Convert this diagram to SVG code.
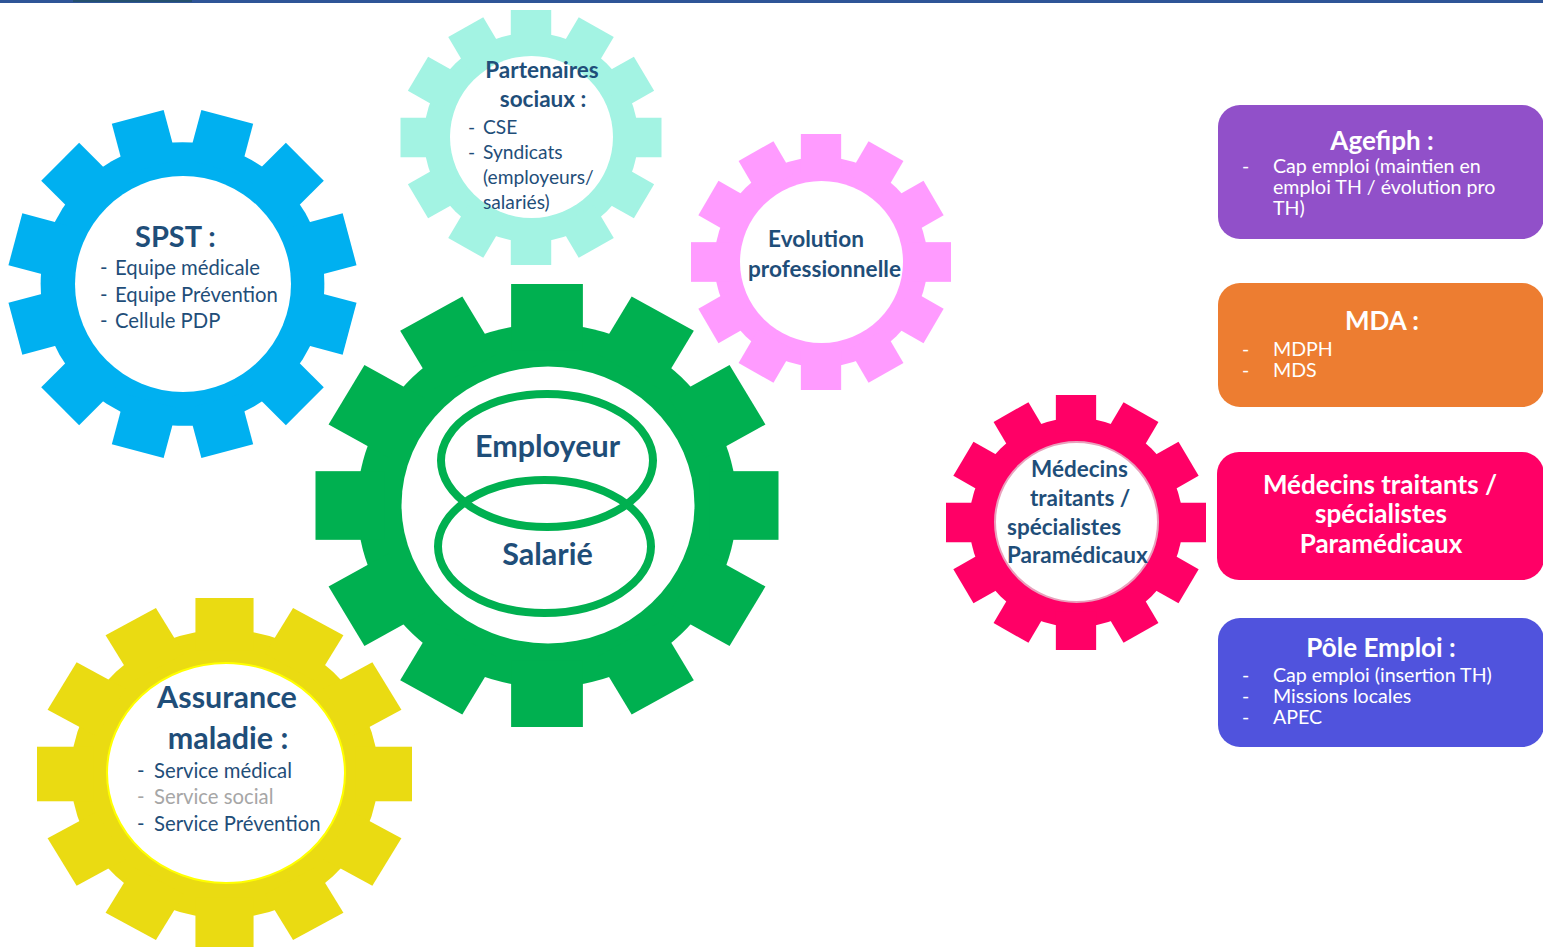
<svg xmlns="http://www.w3.org/2000/svg" xmlns:xlink="http://www.w3.org/1999/xlink" width="1543" height="947" viewBox="0 0 1543 947">
<style>
text{font-family:Lato,"Liberation Sans",sans-serif;}
.t{fill:#1F4E79;}
.b{font-weight:bold;}
.w{fill:#ffffff;}
.hole{fill:#ffffff;}
</style>
<defs>
<g id="gear">
<circle r="82"/>
<rect x="-15.5" y="-100" width="31" height="30"/>
<rect x="-15.5" y="-100" width="31" height="30" transform="rotate(30)"/>
<rect x="-15.5" y="-100" width="31" height="30" transform="rotate(60)"/>
<rect x="-15.5" y="-100" width="31" height="30" transform="rotate(90)"/>
<rect x="-15.5" y="-100" width="31" height="30" transform="rotate(120)"/>
<rect x="-15.5" y="-100" width="31" height="30" transform="rotate(150)"/>
<rect x="-15.5" y="-100" width="31" height="30" transform="rotate(180)"/>
<rect x="-15.5" y="-100" width="31" height="30" transform="rotate(210)"/>
<rect x="-15.5" y="-100" width="31" height="30" transform="rotate(240)"/>
<rect x="-15.5" y="-100" width="31" height="30" transform="rotate(270)"/>
<rect x="-15.5" y="-100" width="31" height="30" transform="rotate(300)"/>
<rect x="-15.5" y="-100" width="31" height="30" transform="rotate(330)"/>
</g>
</defs>
<rect width="1543" height="947" fill="#ffffff"/>
<rect x="0" y="0" width="1543" height="3" fill="#2F5597"/>
<rect x="73" y="0" width="119" height="2" fill="#24506E"/>

<g id="spst">
<use xlink:href="#gear" fill="#00B0F0" transform="translate(182.5,284) scale(1.73) rotate(15)"/>
<circle class="hole" cx="183" cy="284" r="108"/>
<text class="t b" x="135" y="247" font-size="29">SPST :</text>
<text class="t" font-size="20.3"><tspan x="100" y="275">-</tspan><tspan x="115" y="275">Equipe médicale</tspan><tspan x="100" y="302">-</tspan><tspan x="115" y="302">Equipe Prévention</tspan><tspan x="100" y="328">-</tspan><tspan x="115" y="328">Cellule PDP</tspan></text>
</g>

<g id="partenaires">
<use xlink:href="#gear" fill="#A3F3E3" transform="translate(531,137.5) scale(1.305,1.275)"/>
<ellipse class="hole" cx="531.5" cy="137" rx="81.5" ry="81"/>
<text class="t b" font-size="22.5" text-anchor="middle"><tspan x="542" y="78">Partenaires</tspan><tspan x="543" y="107">sociaux :</tspan></text>
<text class="t" font-size="19.2"><tspan x="468" y="134">-</tspan><tspan x="483" y="134">CSE</tspan><tspan x="468" y="159">-</tspan><tspan x="483" y="159">Syndicats</tspan><tspan x="483" y="184">(employeurs/</tspan><tspan x="483" y="209">salariés)</tspan></text>
</g>

<g id="evolution">
<use xlink:href="#gear" fill="#FF9BFF" transform="translate(821,262) scale(1.30,1.28)"/>
<ellipse class="hole" cx="821.5" cy="262" rx="81.5" ry="81"/>
<text class="t b" font-size="22.6" text-anchor="middle"><tspan x="816" y="247">Evolution</tspan><tspan x="824.5" y="277">professionnelle</tspan></text>
</g>

<g id="employeur-salarie">
<use xlink:href="#gear" fill="#00B050" transform="translate(547,505.5) scale(2.315,2.215)"/>
<ellipse class="hole" cx="548" cy="505" rx="146.5" ry="138.5"/>
<ellipse cx="547" cy="460.5" rx="106" ry="66.5" fill="none" stroke="#00B050" stroke-width="8"/>
<ellipse cx="544.5" cy="546.5" rx="106.5" ry="66.5" fill="none" stroke="#00B050" stroke-width="8"/>
<text class="t b" x="547.5" y="457" font-size="30.5" text-anchor="middle">Employeur</text>
<text class="t b" x="547.5" y="565" font-size="30.5" text-anchor="middle">Salarié</text>
</g>

<g id="assurance">
<use xlink:href="#gear" fill="#EADB12" transform="translate(224.5,774) scale(1.875,1.76)"/>
<ellipse class="hole" cx="226" cy="773" rx="119" ry="110" stroke="#FFFF00" stroke-width="2"/>
<text class="t b" font-size="30.5" text-anchor="middle"><tspan x="227" y="708">Assurance</tspan><tspan x="228" y="749">maladie :</tspan></text>
<text font-size="20.3"><tspan class="t" x="137" y="778">-</tspan><tspan class="t" x="154" y="778">Service médical</tspan><tspan x="137" y="804" fill="#A6A6A6">-</tspan><tspan x="154" y="804" fill="#A6A6A6">Service social</tspan><tspan class="t" x="137" y="831">-</tspan><tspan class="t" x="154" y="831">Service Prévention</tspan></text>
</g>

<g id="medecins-gear">
<use xlink:href="#gear" fill="#FF0066" transform="translate(1076,522.5) scale(1.30,1.275)"/>
<ellipse class="hole" cx="1076.5" cy="522" rx="81.5" ry="80" stroke="#E9A0BC" stroke-width="2"/>
<text class="t b" font-size="22.5"><tspan x="1031" y="477">Médecins</tspan><tspan x="1030" y="506">traitants /</tspan><tspan x="1007" y="535">spécialistes</tspan><tspan x="1007" y="563">Paramédicaux</tspan></text>
</g>

<g id="agefiph">
<rect x="1218" y="105" width="326" height="134" rx="22" fill="#9150C9"/>
<text class="w b" x="1382" y="150" font-size="26" text-anchor="middle">Agefiph :</text>
<text class="w" font-size="19.6"><tspan x="1242" y="173">-</tspan><tspan x="1273" y="173">Cap emploi (maintien en</tspan><tspan x="1273" y="194">emploi TH / évolution pro</tspan><tspan x="1273" y="215">TH)</tspan></text>
</g>

<g id="mda">
<rect x="1218" y="283" width="326" height="124" rx="22" fill="#ED7D31"/>
<text class="w b" x="1382" y="330" font-size="26" text-anchor="middle">MDA :</text>
<text class="w" font-size="19.6"><tspan x="1242" y="356">-</tspan><tspan x="1273" y="356">MDPH</tspan><tspan x="1242" y="377">-</tspan><tspan x="1273" y="377">MDS</tspan></text>
</g>

<g id="medecins-box">
<rect x="1217" y="452" width="327" height="128" rx="22" fill="#FF0066"/>
<text class="w b" font-size="26" text-anchor="middle"><tspan x="1380" y="494">Médecins traitants /</tspan><tspan x="1381" y="523">spécialistes</tspan><tspan x="1381" y="553">Paramédicaux</tspan></text>
</g>

<g id="pole-emploi">
<rect x="1218" y="618" width="326" height="129" rx="22" fill="#5053DD"/>
<text class="w b" x="1381" y="657" font-size="26" text-anchor="middle">Pôle Emploi :</text>
<text class="w" font-size="19.6"><tspan x="1242" y="682">-</tspan><tspan x="1273" y="682">Cap emploi (insertion TH)</tspan><tspan x="1242" y="703">-</tspan><tspan x="1273" y="703">Missions locales</tspan><tspan x="1242" y="724">-</tspan><tspan x="1273" y="724">APEC</tspan></text>
</g>
</svg>
